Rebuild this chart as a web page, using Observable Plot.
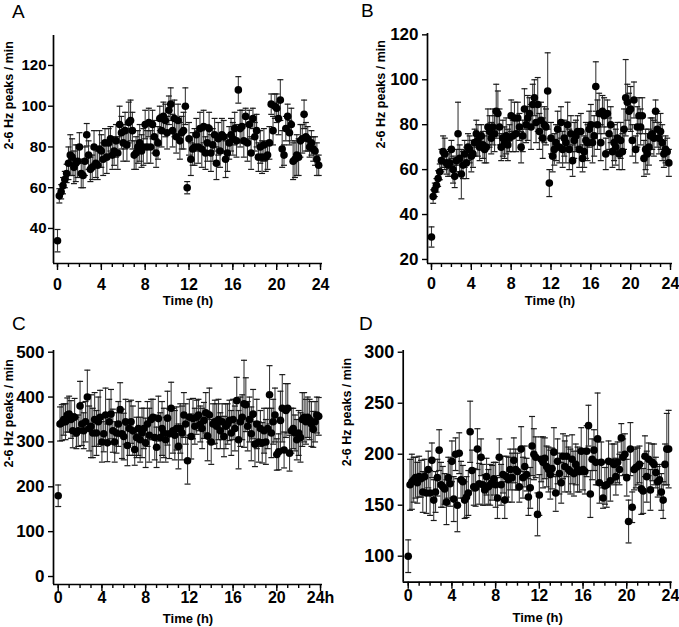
<!DOCTYPE html>
<html><head><meta charset="utf-8">
<script src="https://cdn.jsdelivr.net/npm/d3@7"></script>
<script src="https://cdn.jsdelivr.net/npm/@observablehq/plot@0.6"></script>
<style>
body{margin:0;background:#fff;}
#fig{position:relative;width:679px;height:627px;overflow:hidden;background:#fff;font-family:"Liberation Sans",Arial,sans-serif;}
.panel{position:absolute;}
.letter{position:absolute;font-size:19px;line-height:19px;color:#000;font-family:"Liberation Sans",Arial,sans-serif;}
</style></head><body><div id="fig"></div>
<script>
// ---- tick labels ----
const xMajorTicks = [0, 4, 8, 12, 16, 20, 24];
const xMinorTicks = [0,1,2,3,4,5,6,7,8,9,10,11,12,13,14,15,16,17,18,19,20,21,22,23,24];
const yTicksA = [40, 60, 80, 100, 120];
const yTicksB = [20, 40, 60, 80, 100, 120];
const yTicksC = [0, 100, 200, 300, 400, 500];
const yTicksD = [100, 150, 200, 250, 300];
const yTitle = "2-6 Hz peaks / min";
const xTitle = "Time (h)";
const panelLetters = ["A", "B", "C", "D"];

// ---- series: one value every 10 min (rows = hours) ----
const valuesA = [
 34,56,58,61,64,67, 72,76,75,70,72,73, 80,67,66,73,86,76, 69,70,80,72,71,79,
 78,74,82,75,82,84, 76,78,83,77,91,87, 82,88,81,92,93,88, 76,77,80,82,78,80,
 91,80,92,80,91,85, 77,82,94,88,95,93, 87,98,101,88,94,85, 93,83,87,88,100,60,
 84,74,79,80,86,80, 89,79,90,77,82,89, 77,81,86,72,84,78, 86,85,74,77,82,86,
 84,89,83,108,89,90, 83,95,82,91,77,94, 85,88,75,80,75,81, 75,76,82,101,88,100,
 99,94,103,79,76,89, 95,87,91,73,74,76, 75,83,84,96,85,84, 80,82,79,78,74,71
];
const errorsA = [
 5.5,3.5,3.5,4,4,4.5, 8,10,9,8,9,8, 7,7,6,7,5.5,7, 6,6,8,7,7,9,
 8,8,7,8,7,6, 7,7,8,8,9,8, 9,9,8,10,10,9, 7,8,8,9,8,9,
 7,8,7,8,7,8, 7,8,6,8,7,8, 8,7,8,8,9,8, 8,9,8,9,9,3,
 8,8,8,9,8,8, 8,9,8,8,9,8, 9,8,8,8,8,8, 8,8,9,9,8,8,
 8,8,8,6.5,9,8, 8,4,9,7,8,5, 7,8,7,8,8,8, 7,7,8,5,7,6,
 7,8,10,9,5,6, 6,6,8,9,9,10, 9,8,7,7,7,6, 5,6,6,7,8,5
];
const valuesB = [
 30,48,51,53,56,59, 64,68,67,63,62,63, 69,60,57,64,76,65, 58,62,67,63,70,69,
 66,67,72,76,73,70, 75,71,69,70,79,77, 74,79,76,86,85,79, 70,74,72,75,71,74,
 84,75,83,76,83,79, 70,75,87,80,83,85, 79,89,92,81,89,77, 82,74,80,79,95,54,
 74,66,69,72,78,70, 81,69,74,72,80,69, 76,64,73,75,77,69, 77,65,68,73,72,78,
 80,72,75,97,80,85, 72,86,84,67,85,76, 80,68,72,70,74,67, 73,68,78,92,90,86,
 87,73,91,69,79,84, 79,84,65,69,67,70, 75,76,74,86,78,74, 77,72,67,69,68,63
];
const errorsB = [
 4.5,3,3,3,3.5,3.5, 5,7,7,5,5,6, 4,6,5,5,14,6, 11,6,6,7,6,6,
 7,6,6,6,7,6, 5,6,6,7,8,7, 7,8,8,12,10,8, 6,8,7,8,7,6,
 7,7,7,8,7,6, 7,7,9,8,10,7, 10,9,8,9,12,8, 8,9,8,8,17,6,
 7,7,7,8,8,7, 7,8,8,9,10,9, 8,7,8,7,7,8, 8,6,7,8,8,8,
 9,9,9,11,11,9, 8,7,8,7,6,7, 8,7,8,8,7,7, 8,8,9,17,8,8,
 10,7,8,6,9,8, 8,8,8,9,9,8, 8,7,8,5,8,7, 8,8,6,6,6,6
];
const valuesC = [
 180,340,343,350,345,360, 362,350,325,355,320,325, 380,340,325,345,400,330, 335,320,350,320,345,355,
 300,318,360,298,345,362, 325,300,320,340,372,318, 312,345,292,330,345,325, 283,310,330,305,320,330,
 298,340,315,350,355,310, 288,352,310,330,320,305, 353,318,375,325,315,330, 290,330,320,360,340,258,
 355,312,352,335,355,360, 340,330,348,365,313,360, 300,340,345,335,350,325, 345,312,335,340,348,320,
 350,330,392,305,345,355, 385,383,335,350,318,362, 295,340,300,330,298,325, 300,330,405,320,345,360,
 272,278,348,375,282,370, 375,275,325,330,320,305, 320,310,350,355,345,355, 350,340,328,345,360,357
];
const errorsC = [
 24,38,40,35,40,38, 40,42,38,42,35,35, 55,48,40,45,60,50, 70,55,60,50,55,60,
 45,40,60,42,50,55, 48,45,45,50,60,55, 52,50,45,60,48,55, 35,45,60,50,55,45,
 55,50,60,45,40,50, 45,50,55,60,55,50, 60,55,58,50,55,48, 50,55,60,50,45,52,
 40,50,45,40,38,35, 40,45,40,45,55,60, 50,45,48,50,45,40, 40,45,50,45,45,50,
 45,50,52,65,55,50, 97,60,55,50,60,55, 50,55,45,40,45,50, 50,45,65,55,50,60,
 35,40,65,75,40,60, 55,40,50,45,40,45, 50,55,60,55,50,45, 45,50,40,45,40,42
];
const valuesD = [
 100,170,173,175,177,172, 178,176,163,178,162,185, 162,194,155,163,177,204, 170,168,166,153,177,171,
 193,156,200,150,201,175, 173,155,158,162,222,184, 168,167,205,171,197,170, 165,178,168,170,172,176,
 170,157,197,170,180,155, 178,175,185,177,194,185, 183,168,205,177,188,180, 158,167,208,200,197,141,
 160,195,192,196,188,185, 180,186,202,162,193,181, 172,198,188,198,185,183, 195,181,190,185,183,203,
 185,183,203,228,161,195, 204,192,215,172,192,157, 169,170,193,174,192,190, 178,192,185,216,197,200,
 177,134,205,148,185,187, 188,190,166,164,198,178, 195,165,192,190,182,173, 175,163,155,190,205,205
];
const errorsD = [
 16,25,27,22,20,20, 20,18,20,17,20,18, 22,17,20,20,18,20, 22,20,15,22,20,22,
 20,22,16,26,20,18, 16,18,20,22,30,20, 18,18,20,20,18,20, 15,18,17,20,17,16,
 22,20,18,20,18,18, 20,22,20,24,22,20, 18,15,22,20,20,16, 18,20,29,25,20,21,
 20,22,25,20,20,22, 24,20,24,18,22,20, 20,22,25,20,22,22, 24,22,20,22,20,23,
 20,22,25,20,23,20, 20,22,45,20,20,10, 18,22,20,20,18,20, 18,20,15,14,18,20,
 18,21,26,15,20,20, 18,18,25,22,20,25, 16,20,18,20,15,15, 15,18,18,20,35,38
];
const times = d3.range(valuesA.length).map(i => i / 6);

const capSymbol = {
  draw(context, size) {
    const w = Math.sqrt(size / Math.PI);
    context.moveTo(-w, 0);
    context.lineTo(w, 0);
  }
};

const FONT = '"Liberation Sans", Arial, sans-serif';

function panel(cfg) {
  const data = cfg.values.map((v, i) => ({t: times[i], v, e: cfg.errors[i]}));
  const plot = Plot.plot({
    width: cfg.w, height: cfg.h,
    marginLeft: cfg.ml, marginRight: cfg.mr, marginTop: cfg.mt, marginBottom: cfg.mb,
    x: {domain: cfg.xd},
    y: {domain: cfg.yd},
    style: {fontFamily: FONT, color: "#000", background: "transparent", overflow: "visible"},
    marks: [
      Plot.ruleX(data, {x: "t", y1: d => d.v - d.e, y2: d => d.v + d.e, stroke: "#3c3c3c", strokeWidth: 1.1}),
      Plot.dot(data, {x: "t", y: d => d.v + d.e, symbol: capSymbol, r: 3, stroke: "#1a1a1a", strokeWidth: 1.2, fill: "none"}),
      Plot.dot(data, {x: "t", y: d => d.v - d.e, symbol: capSymbol, r: 3, stroke: "#1a1a1a", strokeWidth: 1.2, fill: "none"}),
      Plot.dot(data, {x: "t", y: "v", r: 3.8, fill: "#000", stroke: "none"}),
      Plot.ruleX([cfg.xd[0]], {stroke: "#000", strokeWidth: 1.7}),
      Plot.ruleY([cfg.yd[0]], {stroke: "#000", strokeWidth: 1.7}),
      Plot.axisY({ticks: cfg.yTicks, tickSize: 5, tickPadding: cfg.ytp, fontSize: cfg.yfs, fontWeight: "bold", label: null, strokeWidth: 1.4}),
      Plot.axisX({ticks: xMinorTicks, tickSize: 4, tickFormat: () => "", label: null, strokeWidth: 1.4}),
      Plot.axisX({ticks: xMajorTicks, tickSize: 7, tickPadding: cfg.xtp, fontSize: cfg.xfs, fontWeight: "bold", label: null, strokeWidth: 1.4, tickFormat: cfg.xfmt || (d => String(d))}),
      Plot.text([yTitle], {frameAnchor: "left", rotate: -90, dx: cfg.ytdx, fontSize: 12.5, fontWeight: "bold"}),
      Plot.text([xTitle], {frameAnchor: "bottom", dy: cfg.xtdy, fontSize: 13, fontWeight: "bold"})
    ]
  });
  const div = document.createElement("div");
  div.className = "panel";
  div.style.left = cfg.left + "px";
  div.style.top = cfg.top + "px";
  div.appendChild(plot);
  document.getElementById("fig").appendChild(div);
}

panel({left: 0, top: 0, w: 340, h: 310, ml: 53, mr: 18, mt: 35, mb: 47,
  xd: [-0.365, 24.18], yd: [22.8, 134.7], yTicks: yTicksA, values: valuesA, errors: errorsA,
  ytp: 2, yfs: 15, xfs: 16, xtp: 8, ytdx: -45, xtdy: 41});
panel({left: 340, top: 0, w: 339, h: 310, ml: 87, mr: 7, mt: 33, mb: 47,
  xd: [-0.4, 24.2], yd: [18.2, 120.6], yTicks: yTicksB, values: valuesB, errors: errorsB,
  ytp: 4, yfs: 17, xfs: 16, xtp: 7, ytdx: -47, xtdy: 41});
panel({left: 0, top: 310, w: 340, h: 317, ml: 53, mr: 18, mt: 40, mb: 43,
  xd: [-0.43, 24.18], yd: [-17.8, 503.8], yTicks: yTicksC, values: valuesC, errors: errorsC,
  ytp: 4, yfs: 17, xfs: 16, xtp: 0, ytdx: -45, xtdy: 38.5, xfmt: d => d === 24 ? "24h" : String(d)});
panel({left: 340, top: 310, w: 339, h: 317, ml: 62.7, mr: 7.3, mt: 40, mb: 45.3,
  xd: [-0.46, 24.16], yd: [74.5, 301.7], yTicks: yTicksD, values: valuesD, errors: errorsD,
  ytp: 4, yfs: 18, xfs: 16, xtp: 0, ytdx: -56, xtdy: 40});

const letterPos = [[12, 2], [361, 1], [12, 314], [359, 314]];
panelLetters.forEach((L, i) => {
  const d = document.createElement("div");
  d.className = "letter";
  d.textContent = L;
  d.style.left = letterPos[i][0] + "px";
  d.style.top = letterPos[i][1] + "px";
  document.getElementById("fig").appendChild(d);
});
</script></body></html>
